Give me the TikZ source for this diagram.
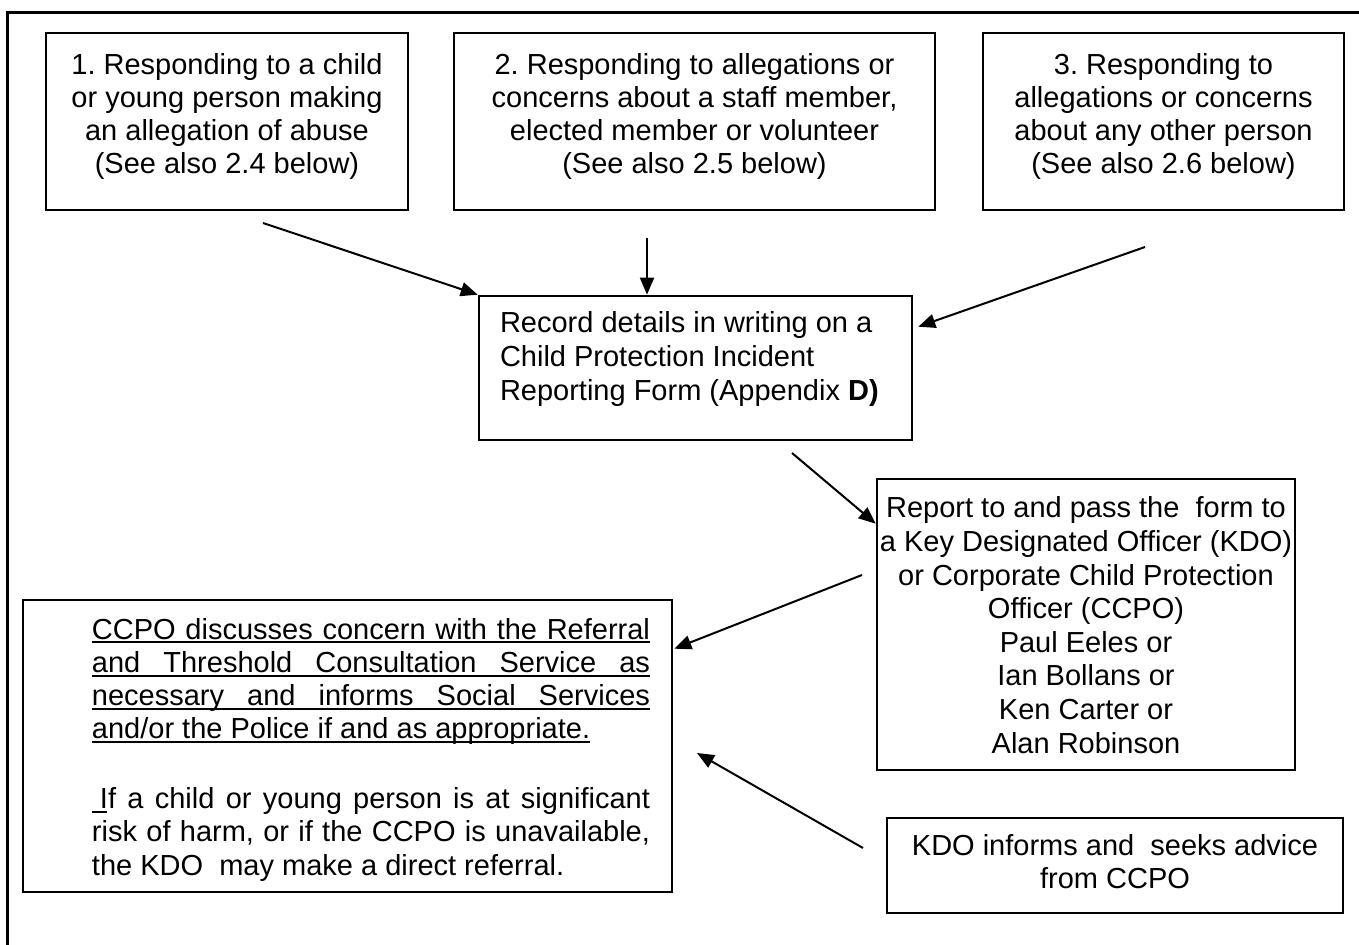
\documentclass[tikz,border=0pt]{standalone}
\usepackage{fontspec}
\setmainfont{Liberation Sans}
\usetikzlibrary{arrows.meta,calc}
\frenchspacing
\newcommand\ulrule[1]{\rlap{\rule[-2.2pt]{#1}{1.05pt}}}
\newcommand\jline[1]{\ulrule{279pt}\makebox[279pt][s]{#1}}
\newcommand\plainj[1]{\makebox[279pt][s]{#1}}
\newcommand\ulnat[1]{\sbox0{#1}\ulrule{\wd0}\usebox0}
\newcommand\bx[4]{\parbox[c][#2][t]{#1}{\vspace*{#3}#4}}
\begin{document}
\begin{tikzpicture}[x=0.5pt,y=-0.5pt,
  every node/.style={font=\fontsize{14.5pt}{16.6pt}\selectfont\frenchspacing},
  box/.style={draw, line width=1.3pt, inner sep=0pt},
  arr/.style={-{Triangle[length=8.5pt,width=7pt]}, line width=1pt}]
\useasboundingbox (0,0) rectangle (1359,945);
\draw[line width=1.5pt] (7,945) -- (7,13) -- (1359,13);

\node[box] (b1) at (227,121.5) {\bx{181pt}{88.5pt}{8.9pt}{\centering\strut 1. Responding to a child\\ or young person making\\ an allegation of abuse\\ (See also 2.4 below)}};
\node[box] (b2) at (694.5,121.5) {\bx{240.5pt}{88.5pt}{8.9pt}{\centering\strut 2. Responding to allegations or\\ concerns about a staff member,\\ elected member or volunteer\\ (See also 2.5 below)}};
\node[box] (b3) at (1163.5,121.5) {\bx{180.5pt}{88.5pt}{8.9pt}{\centering\strut 3. Responding to\\ allegations or concerns\\ about any other person\\ (See also 2.6 below)}};

\node[box] (rec) at (695.5,368) {\bx{216.5pt}{72pt}{6.6pt}{\raggedright\leftskip=10.5pt \fontsize{14.5pt}{17pt}\selectfont\strut Record details in writing on a\\ Child Protection Incident\\ Reporting Form (Appendix \textbf{D)}}};

\node[box] (rep) at (1086,624.5) {\bx{209pt}{145.5pt}{7.7pt}{\centering\fontsize{14.5pt}{16.8pt}\selectfont\strut Report to and pass the\ \ form to\\ a Key Designated Officer (KDO)\\ or Corporate Child Protection\\ Officer (CCPO)\\ Paul Eeles or\\ Ian Bollans or\\ Ken Carter or\\ Alan Robinson}};

\node[box] (kdo) at (1115,865.5) {\bx{228pt}{47.5pt}{6.9pt}{\centering\strut KDO informs and\ \ seeks advice\\ from CCPO}};

\node[box] (ccpo) at (347.5,746) {\bx{324.5pt}{146pt}{7.9pt}{\leftskip=34.5pt \parindent=0pt \strut\jline{CCPO discusses concern with the Referral}\\ \jline{and Threshold Consultation Service as}\\ \jline{necessary and informs Social Services}\\ \ulnat{and/or the Police if and as appropriate.}\\[18.4pt] \plainj{\ulrule{7.5pt}\hspace{4pt}If a child or young person is at significant}\\ \plainj{risk of harm, or if the CCPO is unavailable,}\\ the KDO\ \ may make a direct referral.}};

\coordinate (a1s) at (263,223);
\draw[arr] (a1s) -- (rec.north west);
\coordinate (a2s) at (647,238);
\draw[arr] (a2s) -- (a2s |- rec.north);
\coordinate (a3s) at (1145,247);
\draw[arr] (a3s) -- ($(rec.north east)+(5,32)$);
\coordinate (a4s) at (792,453);
\draw[arr] (a4s) -- ($(rep.north west)+(0,46)$);
\coordinate (a5s) at (862,575);
\draw[arr] (a5s) -- ($(ccpo.north east)+(1,50)$);
\coordinate (a6s) at (863,848);
\coordinate (a6e) at (697,753);
\draw[arr] (a6s) -- (a6e);
\end{tikzpicture}
\end{document}
